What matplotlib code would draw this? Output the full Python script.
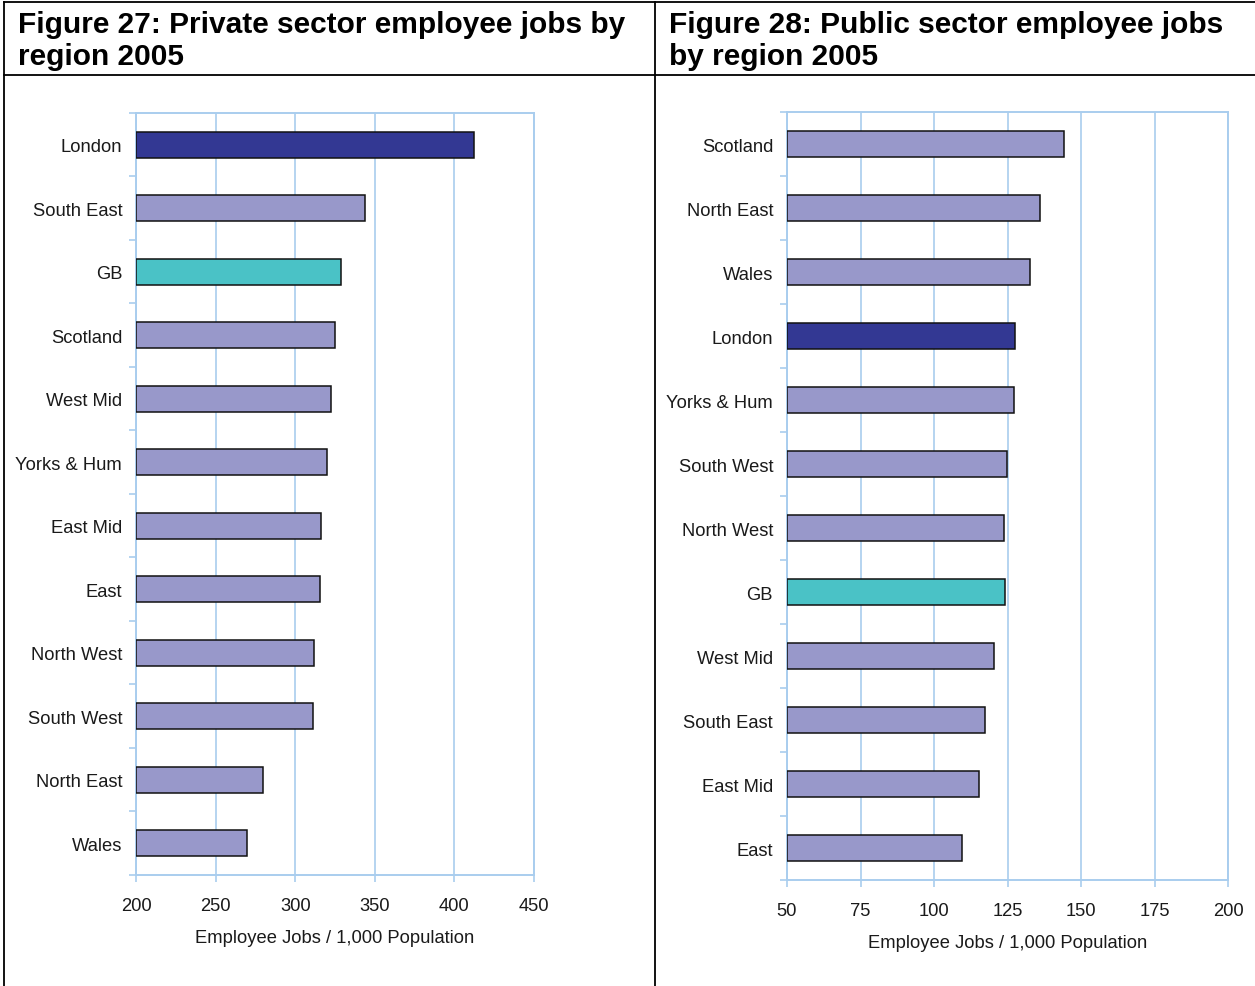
import matplotlib.pyplot as plt
from matplotlib.lines import Line2D
from matplotlib.ticker import MultipleLocator, FixedLocator

plt.rcParams['font.family'] = ['Liberation Sans', 'DejaVu Sans']

# Figure 27: private sector jobs per 1,000 population
private_regions = ['London', 'South East', 'GB', 'Scotland', 'West Mid', 'Yorks & Hum',
                   'East Mid', 'East', 'North West', 'South West', 'North East', 'Wales']
private_values = [412, 344, 329, 325, 322.5, 320, 316.5, 315.5, 312, 311, 280, 270]

# Figure 28: public sector jobs per 1,000 population
public_regions = ['Scotland', 'North East', 'Wales', 'London', 'Yorks & Hum', 'South West',
                  'North West', 'GB', 'West Mid', 'South East', 'East Mid', 'East']
public_values = [144.2, 136.1, 132.6, 127.6, 127.1, 124.9, 123.7, 124.2, 120.5, 117.4, 115.2, 109.5]

BAR = '#9898CA'
LONDON = '#333893'
GB = '#4AC2C6'
GRID = '#A9CDEE'
FS = 13.2


def bar_colors(regions):
    cols = []
    for r in regions:
        if r == 'London':
            cols.append(LONDON)
        elif r == 'GB':
            cols.append(GB)
        else:
            cols.append(BAR)
    return cols


def draw_panel(ax, regions, values, xmin, xmax, step):
    n = len(regions)
    ax.barh(range(n), [v - xmin for v in values], left=xmin, height=0.41,
            color=bar_colors(regions), edgecolor='#111111', linewidth=1.1, zorder=3)
    ax.set_xlim(xmin, xmax)
    ax.set_ylim(n - 0.5, -0.5)
    ax.xaxis.set_major_locator(MultipleLocator(step))
    ax.grid(axis='x', color=GRID, linewidth=1.2, zorder=0)
    # boundary ticks between categories, labels centred on the bars
    ax.yaxis.set_major_locator(FixedLocator([i - 0.5 for i in range(n + 1)]))
    ax.yaxis.set_minor_locator(FixedLocator(list(range(n))))
    ax.set_yticklabels([], minor=False)
    ax.set_yticklabels(regions, minor=True, fontsize=FS, color='#1a1a1a')
    ax.tick_params(axis='y', which='major', length=5, width=1.2, color=GRID)
    ax.tick_params(axis='y', which='minor', length=0, pad=10)
    ax.tick_params(axis='x', length=5, width=1.2, color=GRID, labelsize=FS,
                   labelcolor='#1a1a1a', pad=11)
    for s in ax.spines.values():
        s.set_color(GRID)
        s.set_linewidth(1.4)
    ax.set_xlabel('Employee Jobs / 1,000 Population', fontsize=FS, color='#1a1a1a',
                  labelpad=11)


fig = plt.figure(figsize=(12.55, 9.87), dpi=100)

ax1 = fig.add_axes([0.1084, 0.1125, 0.3171, 0.772])
draw_panel(ax1, private_regions, private_values, 200, 450, 50)

ax2 = fig.add_axes([0.6271, 0.1074, 0.3514, 0.778])
draw_panel(ax2, public_regions, public_values, 50, 200, 25)

# panel frame and header rule
W, H = 1255.0, 987.0
frame = [((4, 4), (0, 984)), ((655, 655), (0, 984)), ((4, 1255), (984, 984)),
         ((4, 1255), (911, 911))]
for xs, ys in frame:
    fig.add_artist(Line2D([x / W for x in xs], [y / H for y in ys],
                          color='black', linewidth=1.3))

fig.text(18 / W, 1 - 11 / H, 'Figure 27: Private sector employee jobs by\nregion 2005',
         fontsize=21.5, fontweight='bold', va='top', ha='left', linespacing=1.2)
fig.text(669 / W, 1 - 11 / H, 'Figure 28: Public sector employee jobs\nby region 2005',
         fontsize=21.5, fontweight='bold', va='top', ha='left', linespacing=1.2)

plt.savefig('out.png', dpi=100)
plt.close()
